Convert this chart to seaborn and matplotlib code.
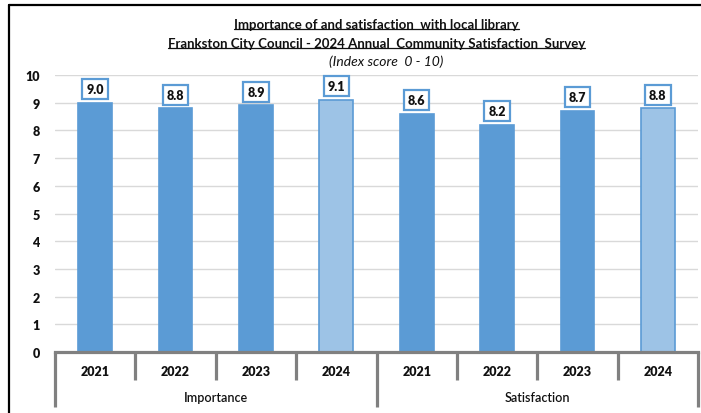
import matplotlib
matplotlib.use('Agg')
import matplotlib.pyplot as plt
import seaborn as sns
import pandas as pd
from matplotlib.lines import Line2D

groups = ['Importance', 'Satisfaction']
years = ['2021', '2022', '2023', '2024']
importance = [9.0, 8.8, 8.9, 9.1]
satisfaction = [8.6, 8.2, 8.7, 8.8]
yticks = list(range(0, 11))

title1 = 'Importance of and satisfaction  with local library'
title2 = 'Frankston City Council - 2024 Annual  Community Satisfaction  Survey'
subtitle = '(Index score  0 - 10)'

rows = []
for g, vals in zip(groups, [importance, satisfaction]):
    for y, v in zip(years, vals):
        rows.append({'group': g, 'year': y, 'key': f'{g} {y}', 'value': v,
                     'period': 'current' if y == years[-1] else 'prior'})
df = pd.DataFrame(rows)

sns.set_theme(style='white')
plt.rcParams['font.family'] = ['Lato', 'DejaVu Sans']

W, H = 701, 414
fig = plt.figure(figsize=(W / 100, H / 100), dpi=100)
ax_l, ax_r, ax_b, ax_t = 55, 698, 353, 76
ax = fig.add_axes([ax_l / W, 1 - ax_b / H, (ax_r - ax_l) / W, (ax_b - ax_t) / H])

sns.barplot(data=df, x='key', y='value', hue='period',
            palette={'prior': '#5B9BD5', 'current': '#9DC3E6'}, saturation=1,
            dodge=False, width=0.42, edgecolor='#5B9BD5', linewidth=1.2,
            legend=False, ax=ax, order=list(df['key']))

ax.set_xlim(-0.5, len(df) - 0.5)
ax.set_ylim(0, 10)
ax.set_yticks(yticks)
ax.set_yticklabels([str(t) for t in yticks], fontsize=9, fontweight='heavy', color='#111111')
ax.tick_params(axis='y', length=0, pad=11)
ax.set_xticks([])
ax.set_xlabel('')
ax.set_ylabel('')
ax.yaxis.grid(True, color='#D9D9D9', lw=1)
ax.set_axisbelow(True)
for s in ['top', 'right', 'left']:
    ax.spines[s].set_visible(False)
ax.spines['bottom'].set_color('#808080')
ax.spines['bottom'].set_linewidth(2.3)

axh = ax_b - ax_t
# value labels
for i, v in enumerate(df['value']):
    ax.annotate(f'{v:.1f}', xy=(i, v), xytext=(0, 5.5), textcoords='offset points',
                ha='center', va='bottom', fontsize=9, fontweight='heavy', color='#111111',
                bbox=dict(boxstyle='square,pad=0.32', fc='white', ec='#5B9BD5', lw=1.6),
                annotation_clip=False)

xt = ax.get_xaxis_transform()
# year labels
for i, y in enumerate(df['year']):
    ax.text(i, -19 / axh, y, transform=xt, ha='center', va='center',
            fontsize=9, fontweight='heavy', color='#111111')
# group labels
n = len(years)
for gi, g in enumerate(groups):
    ax.text(gi * n + (n - 1) / 2, -45 / axh, g, transform=xt, ha='center', va='center',
            fontsize=9, fontweight='semibold', color='#111111')
# separators
for k in range(len(df) + 1):
    outer = (k % n == 0)
    ybot = -55 / axh if outer else -28 / axh
    ax.add_line(Line2D([k - 0.5, k - 0.5], [0, ybot], transform=xt, color='#808080',
                       lw=2.3, clip_on=False, solid_capstyle='butt'))

# titles
cx = (ax_l + ax_r) / 2 / W
t1 = fig.text(cx, 1 - 25 / H, title1, ha='center', va='center', fontsize=9.5,
              fontweight='bold', color='#111111')
t2 = fig.text(cx, 1 - 44 / H, title2, ha='center', va='center', fontsize=9.5,
              fontweight='bold', color='#111111')
fig.text(cx + 10 / W, 1 - 62 / H, subtitle, ha='center', va='center', fontsize=10,
         style='italic', color='#111111')

fig.canvas.draw()
r = fig.canvas.get_renderer()
for t in (t1, t2):
    bb = t.get_window_extent(r)
    yl = (bb.y0 + 1) / H
    fig.add_artist(Line2D([bb.x0 / W, bb.x1 / W], [yl, yl], color='#111111', lw=0.9))

# outer frame
fig.add_artist(Line2D([9 / W, 9 / W], [0, 1 - 6 / H], color='black', lw=1.6))
fig.add_artist(Line2D([9 / W, 1], [1 - 6 / H, 1 - 6 / H], color='black', lw=1.6))

fig.savefig('out.png', dpi=100)
